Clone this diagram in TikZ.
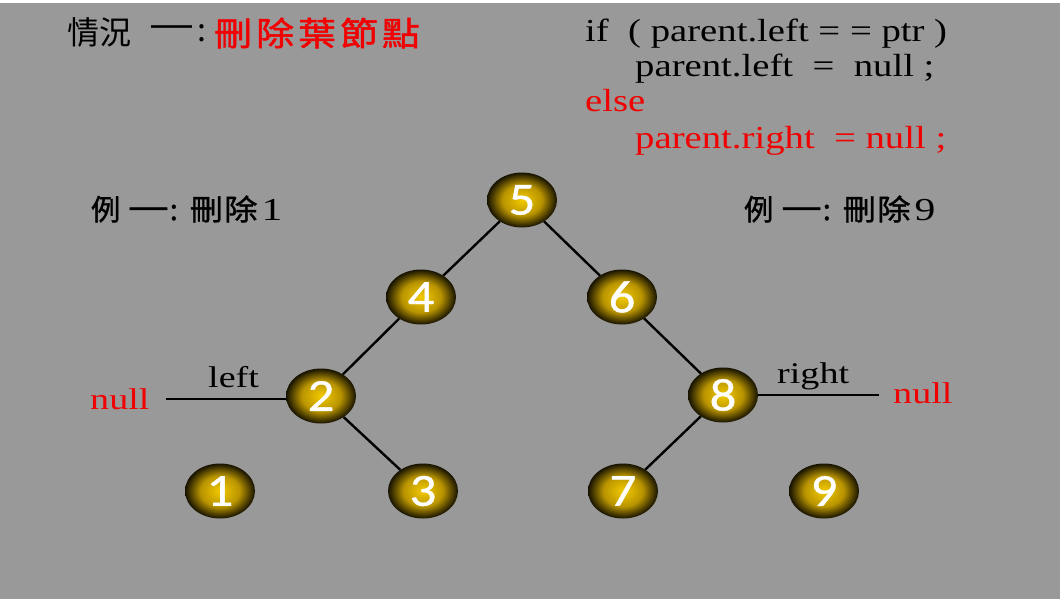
\documentclass[tikz,border=0pt]{standalone}
\usepackage{fontspec}
\setmainfont{Liberation Serif}
\newfontfamily\codefont[FakeStretch=1.21]{Liberation Serif}
\newfontfamily\lblfont[FakeStretch=1.27]{Liberation Serif}
\newfontfamily\numfont[FakeStretch=1.3]{Liberation Serif}
\newfontfamily\cjk{Noto Sans CJK TC}
\newfontfamily\cjkred[FakeStretch=1.15,FakeBold=1.5]{Noto Sans CJK TC}
\newfontfamily\cjkb[FakeBold=1.2]{Noto Sans CJK TC}
\newfontfamily\cjkbw[FakeBold=1.2,FakeStretch=1.15]{Noto Sans CJK TC}
\newfontfamily\digitfont[FakeStretch=1.15,FakeBold=0.8]{Carlito}
\usetikzlibrary{shapes.geometric}
\definecolor{bg}{RGB}{153,153,153}
\definecolor{ballin}{RGB}{242,202,0}
\definecolor{ballmid}{RGB}{185,148,0}
\definecolor{ballout}{RGB}{22,18,0}
\definecolor{hred}{RGB}{240,0,0}
\pgfdeclareradialshading{ballshade}{\pgfpoint{0bp}{0bp}}{color(0bp)=(ballin); color(14bp)=(ballmid); color(25bp)=(ballout); color(50bp)=(ballout)}
\newcommand{\wideyi}{\scalebox{1.4}[1]{一}}
\begin{document}
\begin{tikzpicture}[x=1pt,y=-1pt,
  ball/.style={ellipse, inner sep=0pt, minimum width=70pt, minimum height=55pt,
    shading=ballshade, text=white, font=\digitfont\fontsize{46}{46}\selectfont},
  edge/.style={line width=2.4pt, black},
  code/.style={anchor=base west, inner sep=0pt, font=\codefont\fontsize{32}{36}\selectfont},
  lbl/.style={anchor=base west, inner sep=0pt, font=\lblfont\fontsize{30}{32}\selectfont},
  ttl/.style={anchor=west, inner sep=0pt, font=\cjk\fontsize{32}{36}\selectfont},
  sub/.style={anchor=west, inner sep=0pt, font=\cjkb\fontsize{29}{32}\selectfont}]
\useasboundingbox (0,0) rectangle (1060,599);
\fill[white] (0,0) rectangle (1060,599);
\fill[bg] (0,3) rectangle (1060,599);
% title
\node[ttl] (t1) at (67,33) {情況};
\node[ttl] (t2) at (149,33) {\wideyi};
\node[ttl] (t3) at (197,33) {:};
\node[ttl, text=hred, font=\cjkred\fontsize{33}{36}\selectfont] (t4) at (214,33) {刪\hspace{4pt}除\hspace{4pt}葉\hspace{4pt}節\hspace{4pt}點};
% code
\node[code] (c1) at (585,42) {if\ \ ( parent.left = = ptr )};
\node[code] (c2) at (635,77) {parent.left\ \ =\ \ null ;};
\node[code, text=hred] (c3) at (585,112) {else};
\node[code, text=hred] (c4) at (635,149) {parent.right\ \ = null ;};
% examples
\node[sub] (e1) at (91,209) {例\hspace{8pt}\wideyi\hspace{1pt}:\hspace{12pt}{\cjkbw 刪\hspace{1pt}除}\hspace{4pt}{\numfont\fontsize{32}{32}\selectfont 1}};
\node[sub] (e2) at (744,209) {例\hspace{8pt}\wideyi\hspace{1pt}:\hspace{12pt}{\cjkbw 刪\hspace{1pt}除}\hspace{4pt}{\numfont\fontsize{32}{32}\selectfont 9}};
% tree nodes
\node[ball] (n5) at (522,200) {5};
\node[ball] (n4) at (421,297) {4};
\node[ball] (n6) at (622,297) {6};
\node[ball] (n2) at (321,396) {2};
\node[ball] (n8) at (723,395) {8};
\node[ball] (n1) at (220,491) {1};
\node[ball] (n3) at (423,491) {3};
\node[ball] (n7) at (623,491) {7};
\node[ball] (n9) at (824,491) {9};
\draw[edge] (n5) -- (n4);
\draw[edge] (n5) -- (n6);
\draw[edge] (n4) -- (n2);
\draw[edge] (n2) -- (n3);
\draw[edge] (n6) -- (n8);
\draw[edge] (n8) -- (n7);
\coordinate (nullL) at (166,399);
\coordinate (nullR) at (879,395);
\draw[edge] (nullL) -- (n2.west |- nullL);
\draw[edge] (n8.east) -- (nullR);
\node[lbl] (lleft) at (208,387) {left};
\node[lbl, text=hred] (nl) at (90,409) {null};
\node[lbl] (lright) at (777,383) {right};
\node[lbl, text=hred] (nr) at (893,403) {null};
\end{tikzpicture}
\end{document}
